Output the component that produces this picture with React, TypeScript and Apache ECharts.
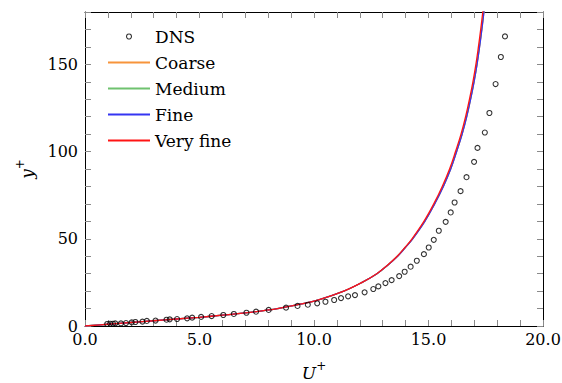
import { useEffect, useRef } from "react";
import * as echarts from "echarts";

// Reference DNS profile (U+, y+)
const dnsU = [0.97, 1.1, 1.22, 1.32, 1.57, 1.79, 2.04, 2.2, 2.51, 2.7, 3.08, 3.56, 3.7, 4.02, 4.46, 4.68, 5.07, 5.53, 6.04, 6.5, 7.05, 7.47, 8.02, 8.78, 9.28, 9.73, 10.14, 10.5, 10.88, 11.18, 11.49, 11.79, 12.21, 12.59, 12.81, 13.12, 13.39, 13.72, 13.96, 14.22, 14.49, 14.8, 15.01, 15.23, 15.45, 15.75, 15.97, 16.14, 16.4, 16.66, 16.99, 17.14, 17.46, 17.66, 17.93, 18.16, 18.34];
const dnsY = [1.15, 1.3, 1.3, 1.5, 1.5, 1.7, 2.1, 2.3, 2.5, 2.9, 3.1, 3.6, 3.8, 4.0, 4.4, 4.8, 5.2, 5.7, 6.3, 6.9, 7.6, 8.2, 9.2, 10.5, 11.5, 12.2, 13.0, 13.9, 14.9, 16.0, 17.0, 17.7, 19.3, 21.2, 22.7, 24.6, 26.3, 28.6, 31.1, 34.0, 37.4, 41.2, 45.0, 49.4, 54.6, 59.7, 65.1, 70.8, 77.3, 85.3, 94.1, 102.1, 110.9, 122.1, 138.7, 154.2, 166.0];

// RANS profiles on four grids (y+ stations shared by all grids)
const ransY = [0, 1, 2, 3, 4, 5, 6.2, 7.5, 9.2, 10, 12.5, 15, 20, 25, 30, 35, 40, 45, 50, 60, 70, 80, 90, 100, 110, 120, 130, 140, 150, 160, 170, 180, 190];
const coarseU = [0, 1, 2, 3, 4, 5, 6, 7, 8, 8.4, 9.39, 10.2, 11.3, 12.1, 12.75, 13.23, 13.65, 13.99, 14.31, 14.84, 15.27, 15.65, 15.97, 16.23, 16.47, 16.67, 16.84, 16.99, 17.12, 17.23, 17.33, 17.42, 17.5];
const mediumU = [0, 1, 2, 3, 4, 5, 6, 7, 8, 8.4, 9.39, 10.2, 11.3, 12.1, 12.75, 13.23, 13.64, 13.98, 14.3, 14.83, 15.26, 15.64, 15.96, 16.22, 16.46, 16.66, 16.83, 16.98, 17.11, 17.22, 17.32, 17.41, 17.49];
const fineU = [0, 1, 2, 3, 4, 5, 6, 7, 8, 8.4, 9.39, 10.2, 11.3, 12.1, 12.75, 13.23, 13.65, 13.99, 14.31, 14.84, 15.27, 15.65, 15.97, 16.23, 16.47, 16.67, 16.84, 16.99, 17.12, 17.23, 17.33, 17.42, 17.5];
const veryFineU = [0, 1, 2, 3, 4, 5, 6, 7, 8, 8.4, 9.39, 10.2, 11.3, 12.1, 12.74, 13.22, 13.63, 13.97, 14.28, 14.8, 15.23, 15.6, 15.92, 16.18, 16.42, 16.62, 16.79, 16.94, 17.07, 17.18, 17.28, 17.37, 17.45];

const xTicks = { min: 0, max: 20, interval: 5 };
const yTicks = { min: 0, max: 180, interval: 50 };

const FONT = "DejaVu Serif";

const zip = (xs: number[], ys: number[]) => xs.map((x, i) => [x, ys[i]]);

const profiles = [
  { name: "Coarse", u: coarseU, color: "#f7943b" },
  { name: "Medium", u: mediumU, color: "#6fc26f" },
  { name: "Fine", u: fineU, color: "#3535f2" },
  { name: "Very fine", u: veryFineU, color: "#ff1414" },
];

export default function App() {
  const ref = useRef<HTMLDivElement>(null);

  useEffect(() => {
    if (!ref.current) return;
    const chart = echarts.init(ref.current, undefined, { renderer: "svg" });

    const tickCommon = {
      axisTick: { show: true, inside: true, length: 6, lineStyle: { color: "#8a8a8a", width: 1 } },
      minorTick: { show: true, splitNumber: 5, length: 6, lineStyle: { color: "#8a8a8a", width: 1 } },
      splitLine: { show: false },
      axisLine: { show: true, onZero: false, lineStyle: { color: "#000", width: 1 } },
    };

    const supRich = {
      i: { fontFamily: FONT, fontStyle: "italic" as const, fontSize: 17, color: "#000", lineHeight: 21, verticalAlign: "bottom" as const },
      s: { fontFamily: FONT, fontSize: 12, color: "#000", lineHeight: 21, verticalAlign: "top" as const, padding: [0, 0, 3, 0] },
    };

    const hiddenMarker = { color: "rgba(0,0,0,0)", borderWidth: 0 };

    chart.setOption({
      animation: false,
      backgroundColor: "#fff",
      grid: { left: 85, right: 19, top: 12, bottom: 57, containLabel: false, outerBoundsMode: "none" },
      legend: {
        orient: "vertical",
        left: 102,
        top: 21,
        itemWidth: 42,
        itemHeight: 5,
        itemGap: 5,
        textStyle: { fontFamily: FONT, fontSize: 17, color: "#000", lineHeight: 21 },
        data: [
          { name: "DNS", icon: "circle", itemStyle: { color: "rgba(255,255,255,0)", borderColor: "#000", borderWidth: 1.1 } },
          ...profiles.map((p) => ({ name: p.name, itemStyle: hiddenMarker })),
        ],
      },
      xAxis: [
        {
          type: "value",
          position: "bottom",
          ...xTicks,
          ...tickCommon,
          axisLabel: {
            fontFamily: FONT,
            fontSize: 16,
            color: "#000",
            margin: 5,
            formatter: (v: number) => v.toFixed(1),
          },
          name: "{i|U}{s|+}",
          nameLocation: "middle",
          nameGap: 34,
          nameTextStyle: { rich: supRich },
        },
        {
          type: "value",
          position: "top",
          ...xTicks,
          ...tickCommon,
          axisLabel: { show: false },
        },
      ],
      yAxis: [
        {
          type: "value",
          position: "left",
          ...yTicks,
          ...tickCommon,
          axisLabel: {
            fontFamily: FONT,
            fontSize: 16,
            color: "#000",
            margin: 7,
            showMaxLabel: false,
          },
          name: "{i|y}{s|+}",
          nameLocation: "middle",
          nameRotate: 90,
          nameGap: 50,
          nameTextStyle: { rich: supRich },
        },
        {
          type: "value",
          position: "right",
          ...yTicks,
          ...tickCommon,
          axisLabel: { show: false },
        },
      ],
      series: [
        ...profiles.map((p) => ({
          name: p.name,
          type: "line",
          data: zip(p.u, ransY),
          symbol: "none",
          smooth: 0.4,
          clip: true,
          color: p.color,
          lineStyle: { color: p.color, width: 1.3 },
          z: 2,
        })),
        {
          name: "DNS",
          type: "scatter",
          data: zip(dnsU, dnsY),
          symbol: "circle",
          symbolSize: 5,
          itemStyle: { color: "rgba(255,255,255,0)", borderColor: "#000", borderWidth: 1.1 },
          z: 3,
        },
      ],
    });

    return () => chart.dispose();
  }, []);

  return (
    <div
      ref={ref}
      style={{ position: "absolute", left: 0, top: 0, width: 562, height: 383 }}
    />
  );
}
